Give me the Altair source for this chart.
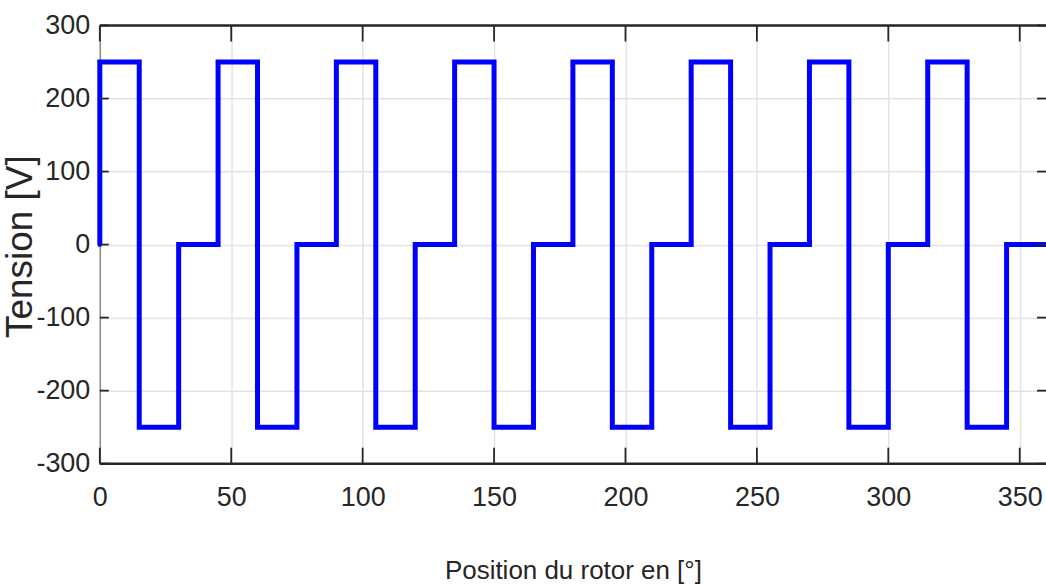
import altair as alt
import pandas as pd

# Phase voltage of the rotor: 15° steps, levels in volts
step_start = [0, 15, 30, 45, 60, 75, 90, 105, 120, 135, 150, 165,
              180, 195, 210, 225, 240, 255, 270, 285, 300, 315, 330, 345]
step_level = [250, -250, 0, 250, -250, 0, 250, -250, 0, 250, -250, 0,
              250, -250, 0, 250, -250, 0, 250, -250, 0, 250, -250, 0]
x_ticks = [0, 50, 100, 150, 200, 250, 300, 350]
y_ticks = [-300, -200, -100, 0, 100, 200, 300]

W, H = 948, 439
LEFT, TOP = 100, 25

# start at (0, 0), then each level held until the next step, closed at 360°
pos = [0] + step_start + [360]
val = [0] + step_level + [0]
wave = pd.DataFrame({"pos": pos, "val": val})

font = "Liberation Sans, Arial, sans-serif"
dark = "#262626"
plain_label = "'' + datum.value"  # hyphen-minus, as printed on the axes

x_scale = alt.Scale(domain=[0, 360], nice=False, zero=False)
y_scale = alt.Scale(domain=[-300, 300], nice=False, zero=False)

line = alt.Chart(wave).mark_line(
    interpolate="step-after", color="#0000ff", strokeWidth=5,
    strokeCap="round", strokeJoin="miter"
).encode(
    x=alt.X("pos:Q", scale=x_scale,
            axis=alt.Axis(values=x_ticks, title="Position du rotor en [°]",
                          grid=True, gridColor="#e3e3e3", gridWidth=1.5,
                          tickSize=0, domain=False, labelExpr=plain_label,
                          labelFont=font, labelFontSize=27, labelColor=dark,
                          labelPadding=21, labelFlush=False,
                          titleFont=font, titleFontSize=26, titleFontWeight="normal",
                          titleColor=dark, titleY=115, titleBaseline="alphabetic")),
    y=alt.Y("val:Q", scale=y_scale,
            axis=alt.Axis(values=y_ticks, title="Tension [V]",
                          grid=True, gridColor="#e3e3e3", gridWidth=1.5,
                          tickSize=0, domain=True, domainColor="#8a8a8a", domainWidth=1.5,
                          labelExpr=plain_label,
                          labelFont=font, labelFontSize=27, labelColor=dark,
                          labelPadding=10,
                          titleFont=font, titleFontSize=37,
                          titleFontWeight="normal", titleColor=dark,
                          titleX=-68, titleY=221, titleBaseline="alphabetic",
                          titleAngle=270)),
)

xt = pd.DataFrame({"pos": x_ticks})
yt = pd.DataFrame({"val": y_ticks})

# inward tick marks on all four sides
tick_style = dict(color=dark, strokeWidth=1.8)
x_bottom = alt.Chart(xt).mark_rule(**tick_style).encode(
    x=alt.X("pos:Q", scale=x_scale), y=alt.value(H - 16), y2=alt.value(H))
x_top = alt.Chart(xt).mark_rule(**tick_style).encode(
    x=alt.X("pos:Q", scale=x_scale), y=alt.value(0), y2=alt.value(16))
y_left = alt.Chart(yt).mark_rule(**tick_style).encode(
    y=alt.Y("val:Q", scale=y_scale), x=alt.value(0), x2=alt.value(9))
y_right = alt.Chart(yt).mark_rule(**tick_style).encode(
    y=alt.Y("val:Q", scale=y_scale), x=alt.value(W - 9), x2=alt.value(W))

# top and bottom frame edges
frame = pd.DataFrame({"val": [-300, 300]})
edges = alt.Chart(frame).mark_rule(color=dark, strokeWidth=2.5).encode(
    y=alt.Y("val:Q", scale=y_scale), x=alt.value(0), x2=alt.value(W))

chart = alt.layer(line, x_bottom, x_top, y_left, y_right, edges).properties(
    width=W, height=H,
    autosize=alt.AutoSizeParams(type="none"),
    padding={"left": LEFT, "top": TOP, "right": 0, "bottom": 585 - TOP - H},
    background="white",
).configure_view(stroke=None)

chart.save("out.html", embed_options={"renderer": "svg", "actions": False})
